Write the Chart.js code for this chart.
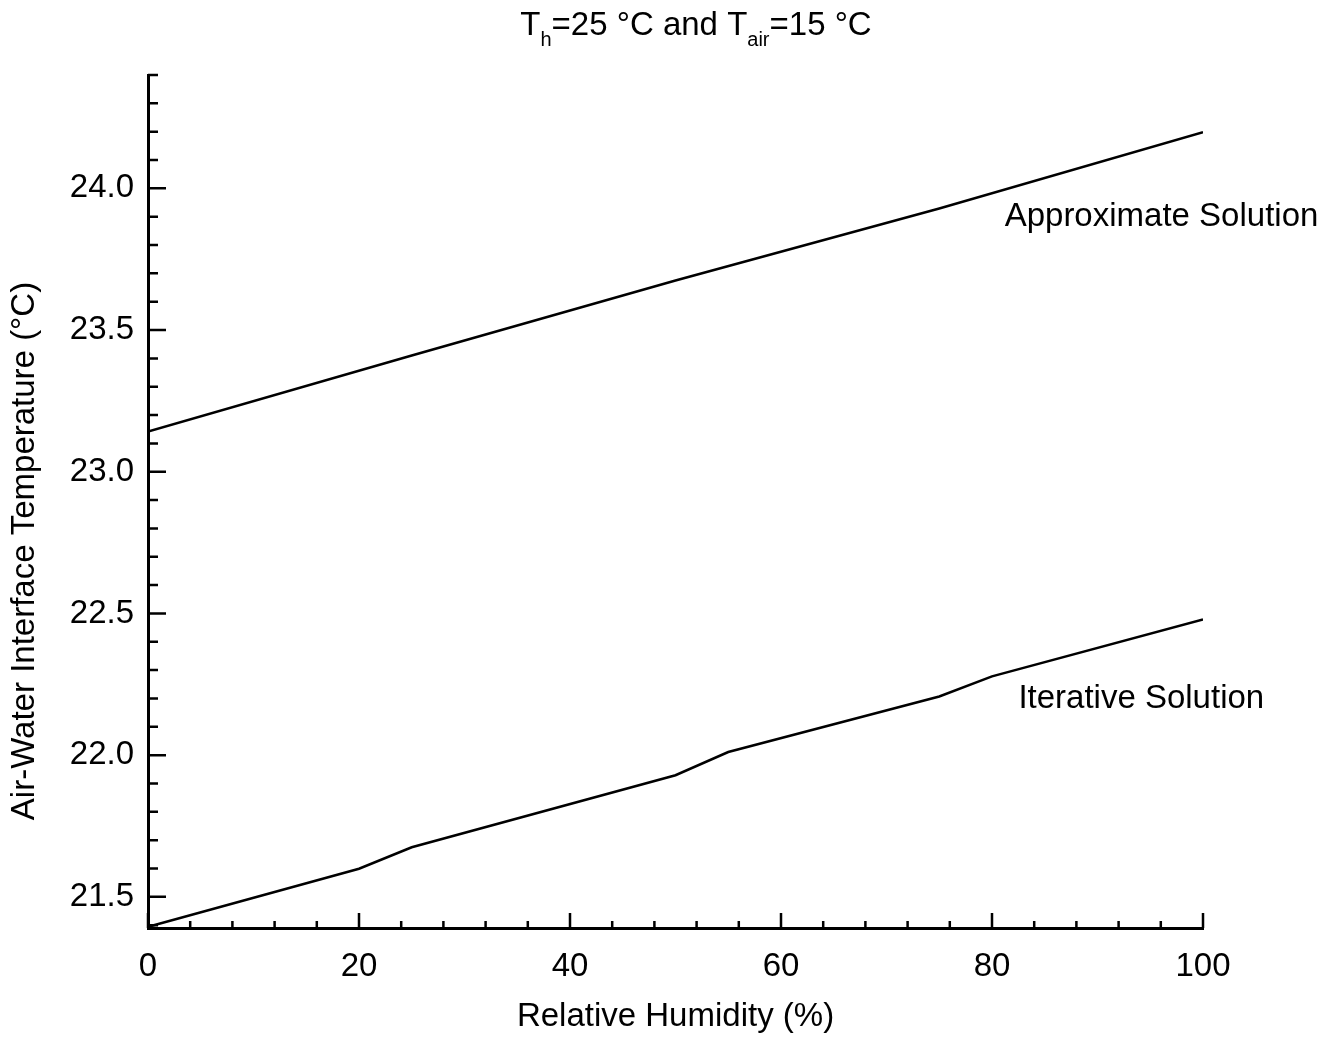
<!DOCTYPE html>
<html>
<head>
<meta charset="utf-8">
<title>Air-water interface temperature</title>
<script src="https://cdn.jsdelivr.net/npm/chart.js@4/dist/chart.umd.min.js"></script>
<style>
  html, body { margin: 0; padding: 0; background: #fff; }
  #wrap { width: 1338px; height: 1037px; }
</style>
</head>
<body>
<div id="wrap"><canvas id="c"></canvas></div>
<script>
// relative humidity (%) and interface temperature (°C)
const approxRH = [0, 25, 50, 75, 100];
const approxT = [23.142, 23.41, 23.675, 23.929, 24.198];
const iterRH = [0, 20, 25, 50, 55, 75, 80, 100];
const iterT = [21.394, 21.599, 21.675, 21.929, 22.011, 22.207, 22.278, 22.479];

const xTickLabels = [0, 20, 40, 60, 80, 100];
const yTickLabels = [21.5, 22.0, 22.5, 23.0, 23.5, 24.0];

const FONT = "'Liberation Sans', Arial, Helvetica, sans-serif";
const SIZE = 33;

function pts(xs, ys) {
  return xs.map((x, i) => ({ x: x, y: ys[i] }));
}

// ticks point into the plot, minor every 4 % / 0.1 °C
const innerTicks = {
  id: 'innerTicks',
  afterDraw(chart) {
    const ctx = chart.ctx;
    const xs = chart.scales.x, ys = chart.scales.y;
    const left = xs.left, bottom = ys.bottom;
    ctx.save();
    ctx.strokeStyle = '#000';
    ctx.lineWidth = 2.5;
    ctx.beginPath();
    for (let v = 0; v <= 100; v += 4) {
      const px = xs.getPixelForValue(v);
      const len = xTickLabels.includes(v) ? 15 : 7;
      ctx.moveTo(px, bottom);
      ctx.lineTo(px, bottom - len);
    }
    for (let k = 214; k <= 244; k++) {
      const v = k / 10;
      const py = ys.getPixelForValue(v);
      const len = (k % 5 === 0) ? 18 : 10;
      ctx.moveTo(left, py);
      ctx.lineTo(left + len, py);
    }
    ctx.stroke();
    ctx.restore();
  }
};

// curve names, y-axis title and the title with its subscripts
const labels = {
  id: 'labels',
  afterDraw(chart) {
    const ctx = chart.ctx;
    const xs = chart.scales.x, ys = chart.scales.y;
    ctx.save();
    ctx.fillStyle = '#000';
    ctx.textBaseline = 'middle';
    ctx.font = SIZE + 'px ' + FONT;
    ctx.fillText('Approximate Solution', xs.getPixelForValue(81.2), ys.getPixelForValue(23.9));
    ctx.fillText('Iterative Solution', xs.getPixelForValue(82.5), ys.getPixelForValue(22.2));

    ctx.save();
    ctx.translate(25, 551);
    ctx.rotate(-Math.PI / 2);
    ctx.textAlign = 'center';
    ctx.fillText('Air-Water Interface Temperature (°C)', 0, 0);
    ctx.restore();

    const big = SIZE + 'px ' + FONT, small = '20px ' + FONT;
    const parts = [
      ['T', big, 0], ['h', small, 11], ['=25 °C and T', big, 0], ['air', small, 11], ['=15 °C', big, 0]
    ];
    let w = 0;
    parts.forEach(p => { ctx.font = p[1]; w += ctx.measureText(p[0]).width; });
    let x = 696 - w / 2;
    const base = 35;
    ctx.textBaseline = 'alphabetic';
    parts.forEach(p => {
      ctx.font = p[1];
      ctx.fillText(p[0], x, base + p[2]);
      x += ctx.measureText(p[0]).width;
    });
    ctx.restore();
  }
};

new Chart(document.getElementById('c'), {
  type: 'line',
  data: {
    datasets: [
      {
        label: 'Approximate Solution',
        data: pts(approxRH, approxT),
        borderColor: '#000',
        borderWidth: 2.5,
        pointRadius: 0,
        tension: 0,
        fill: false
      },
      {
        label: 'Iterative Solution',
        data: pts(iterRH, iterT),
        borderColor: '#000',
        borderWidth: 2.5,
        pointRadius: 0,
        tension: 0,
        fill: false
      }
    ]
  },
  options: {
    responsive: true,
    maintainAspectRatio: false,
    animation: false,
    layout: { padding: { top: 75, right: 135, left: 0, bottom: 0 } },
    plugins: {
      legend: { display: false },
      tooltip: { enabled: false },
      title: { display: false }
    },
    scales: {
      x: {
        type: 'linear',
        min: 0,
        max: 100,
        afterBuildTicks: s => { s.ticks = xTickLabels.map(v => ({ value: v })); },
        afterFit: s => { s.height = 109; },
        grid: { display: true, drawOnChartArea: false, drawTicks: false },
        border: { display: true, color: '#000', width: 3 },
        ticks: {
          color: '#000',
          padding: 19,
          font: { family: FONT, size: SIZE },
          maxRotation: 0
        },
        title: {
          display: true,
          text: 'Relative Humidity (%)',
          color: '#000',
          font: { family: FONT, size: SIZE },
          padding: { top: 10, bottom: 0 }
        }
      },
      y: {
        type: 'linear',
        min: 21.39,
        max: 24.4,
        afterBuildTicks: s => { s.ticks = yTickLabels.map(v => ({ value: v })); },
        afterFit: s => { s.width = 148; },
        grid: { display: true, drawOnChartArea: false, drawTicks: false },
        border: { display: true, color: '#000', width: 3 },
        ticks: {
          color: '#000',
          padding: 14,
          font: { family: FONT, size: SIZE },
          callback: v => v.toFixed(1)
        },
        title: { display: false }
      }
    }
  },
  plugins: [innerTicks, labels]
});
</script>
</body>
</html>
